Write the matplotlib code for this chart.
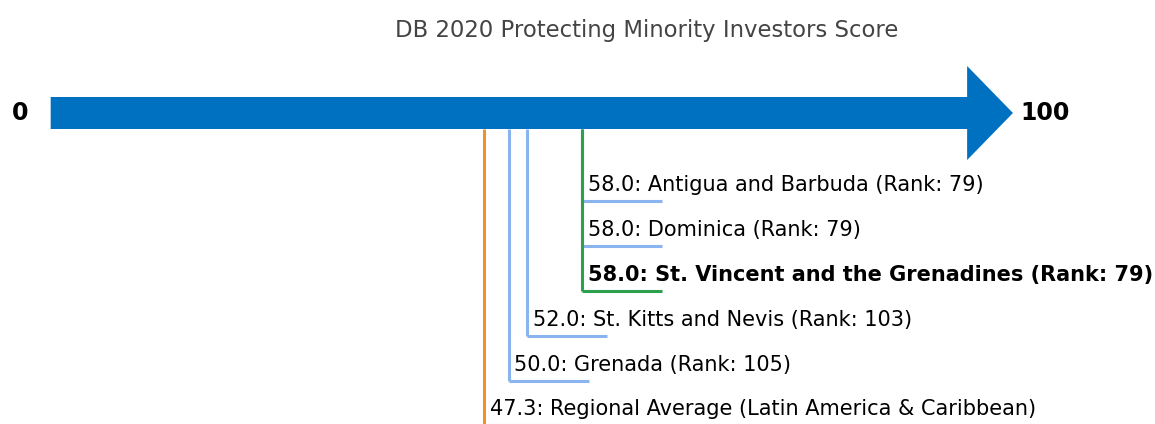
import matplotlib.pyplot as plt
from matplotlib.patches import FancyArrow

# Data
names = [
    'Antigua and Barbuda',
    'Dominica',
    'St. Vincent and the Grenadines',
    'St. Kitts and Nevis',
    'Grenada',
    'Regional Average (Latin America & Caribbean)',
]
scores = [58.0, 58.0, 58.0, 52.0, 50.0, 47.3]
ranks = [79, 79, 79, 103, 105, None]
highlight = 'St. Vincent and the Grenadines'
title = 'DB 2020 Protecting Minority Investors Score'

BLUE = '#0070c0'
LIGHT = '#8ab4ee'
GREEN = '#2ca04c'
ORANGE = '#f28e2b'

fig = plt.figure(figsize=(11.55, 4.24), dpi=100)
ax = fig.add_axes([0, 0, 1, 1])
ax.set_xlim(-5.53, 120.5)
ax.set_ylim(424, 0)
ax.axis('off')

# main arrow (0 -> 100, head beyond)
ax.add_patch(FancyArrow(0, 113, 105, 0, width=32, head_width=94, head_length=5.0,
                        length_includes_head=True, color=BLUE, lw=0))
ax.text(-3.35, 113, '0', ha='center', va='center', fontsize=17, fontweight='bold')
ax.text(108.5, 113, '100', ha='center', va='center', fontsize=17, fontweight='bold')
ax.text(65, 30, title, ha='center', va='center', fontsize=16.4, color='#444444')

top = 129
row0 = 201
step = 45
seg = 8.7
# draw from bottom row upward so highlight lines lie on top
order = list(range(len(names)))[::-1]
for i in order:
    name, s, r = names[i], scores[i], ranks[i]
    y = min(row0 + step * i, 425)
    if name == highlight:
        c, lw, z, fw = GREEN, 2.2, 4, 'bold'
    elif r is None:
        c, lw, z, fw = ORANGE, 2.2, 2, 'normal'
    else:
        c, lw, z, fw = LIGHT, 2.2, 3, 'normal'
    ax.plot([s, s], [top, y], color=c, lw=lw, zorder=z, solid_capstyle='butt')
    ax.plot([s, s + seg], [y, y], color=c, lw=lw, zorder=z, solid_capstyle='butt')
    label = f'{s:.1f}: {name}' + (f' (Rank: {r})' if r is not None else '')
    ax.text(s + 0.6, y - 10, label, ha='left', va='baseline', fontsize=15, fontweight=fw,
            zorder=5)

fig.savefig('out.png', dpi=100)
